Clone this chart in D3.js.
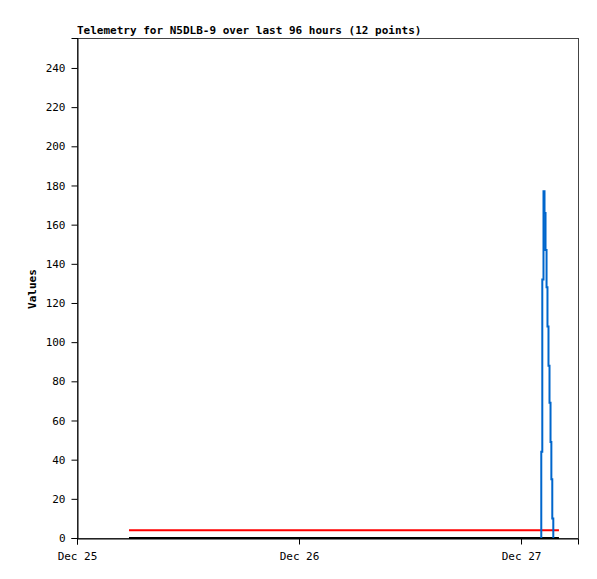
<!DOCTYPE html>
<html>
<head>
<meta charset="utf-8">
<script src="https://cdn.jsdelivr.net/npm/d3@7"></script>
<style>
  body { margin: 0; background: #fff; }
  text { font-family: "DejaVu Sans Mono", "Liberation Mono", monospace; font-size: 11px; fill: #000; }
</style>
</head>
<body>
<div id="chart"></div>
<script>
// telemetry samples (hours after Dec 25 00:00)
var blueHours = [50.19, 50.30, 50.43, 50.54, 50.65, 50.76, 50.86, 50.97, 51.08, 51.19, 51.28, 51.38, 51.49];
var blueValues = [44, 132, 177, 166, 147, 128, 108, 88, 69, 49, 30, 10, 0];
var flatHours = [5.62, 52.1];
var redValues = [4, 4];
var blackValues = [0, 0];
var yTicks = [0, 20, 40, 60, 80, 100, 120, 140, 160, 180, 200, 220, 240];
var xTickLabels = ["Dec 25", "Dec 26", "Dec 27"];

var start = Date.UTC(2023, 11, 25);
function toDate(h) { return new Date(start + h * 3600 * 1000); }

var margin = {top: 38, right: 19, bottom: 41, left: 77},
    width = 597 - margin.left - margin.right,
    height = 579 - margin.top - margin.bottom;

var svg = d3.select("#chart")
  .append("svg")
  .attr("width", 597)
  .attr("height", 579)
  .append("g")
  .attr("transform", "translate(" + margin.left + "," + margin.top + ")");

var x = d3.scaleUtc()
  .domain([toDate(0), toDate(54.16)])
  .range([0, width]);

var y = d3.scaleLinear()
  .domain([0, 255.3])
  .range([height, 0]);

// frame
svg.append("rect")
  .attr("x", 0.5).attr("y", 0.5)
  .attr("width", width).attr("height", height)
  .attr("fill", "none")
  .attr("stroke", "#444");

// y axis
var yAxis = svg.append("g")
  .attr("transform", "translate(0.5,0)")
  .call(d3.axisLeft(y).tickValues(yTicks).tickSize(6).tickPadding(6).tickFormat(d3.format("d")));
yAxis.select(".domain").attr("stroke", "#000");
yAxis.selectAll("text").attr("font-family", null).attr("font-size", null);

// x axis
var xAxis = svg.append("g")
  .attr("transform", "translate(0," + (height + 0.5) + ")")
  .call(d3.axisBottom(x)
    .tickValues([0, 24, 48].map(toDate))
    .tickSize(6).tickPadding(8)
    .tickFormat(function(d, i) { return xTickLabels[i]; }));
xAxis.selectAll("text").attr("font-family", null).attr("font-size", null);

// lines
var flatLine = d3.line()
  .x(function(d) { return x(toDate(d[0])); })
  .y(function(d) { return y(d[1]); });

svg.append("path")
  .datum(d3.zip(flatHours, blackValues))
  .attr("fill", "none")
  .attr("stroke", "#000")
  .attr("stroke-width", 2)
  .attr("d", flatLine);

svg.append("path")
  .datum(d3.zip(flatHours, redValues))
  .attr("fill", "none")
  .attr("stroke", "#ff0000")
  .attr("stroke-width", 2)
  .attr("d", flatLine);

var blueData = [[blueHours[0], 0]].concat(d3.zip(blueHours, blueValues));
svg.append("path")
  .datum(blueData)
  .attr("fill", "none")
  .attr("stroke", "#0066cc")
  .attr("stroke-width", 2)
  .attr("d", d3.line()
    .curve(d3.curveStepAfter)
    .x(function(d) { return x(toDate(d[0])); })
    .y(function(d) { return y(d[1]); }));

// title
svg.append("text")
  .attr("x", 0)
  .attr("y", -4)
  .attr("font-weight", "bold")
  .text("Telemetry for N5DLB-9 over last 96 hours (12 points)");

// y label
svg.append("text")
  .attr("transform", "rotate(-90)")
  .attr("x", -251)
  .attr("y", -41)
  .attr("text-anchor", "middle")
  .attr("font-weight", "bold")
  .text("Values");
</script>
</body>
</html>
